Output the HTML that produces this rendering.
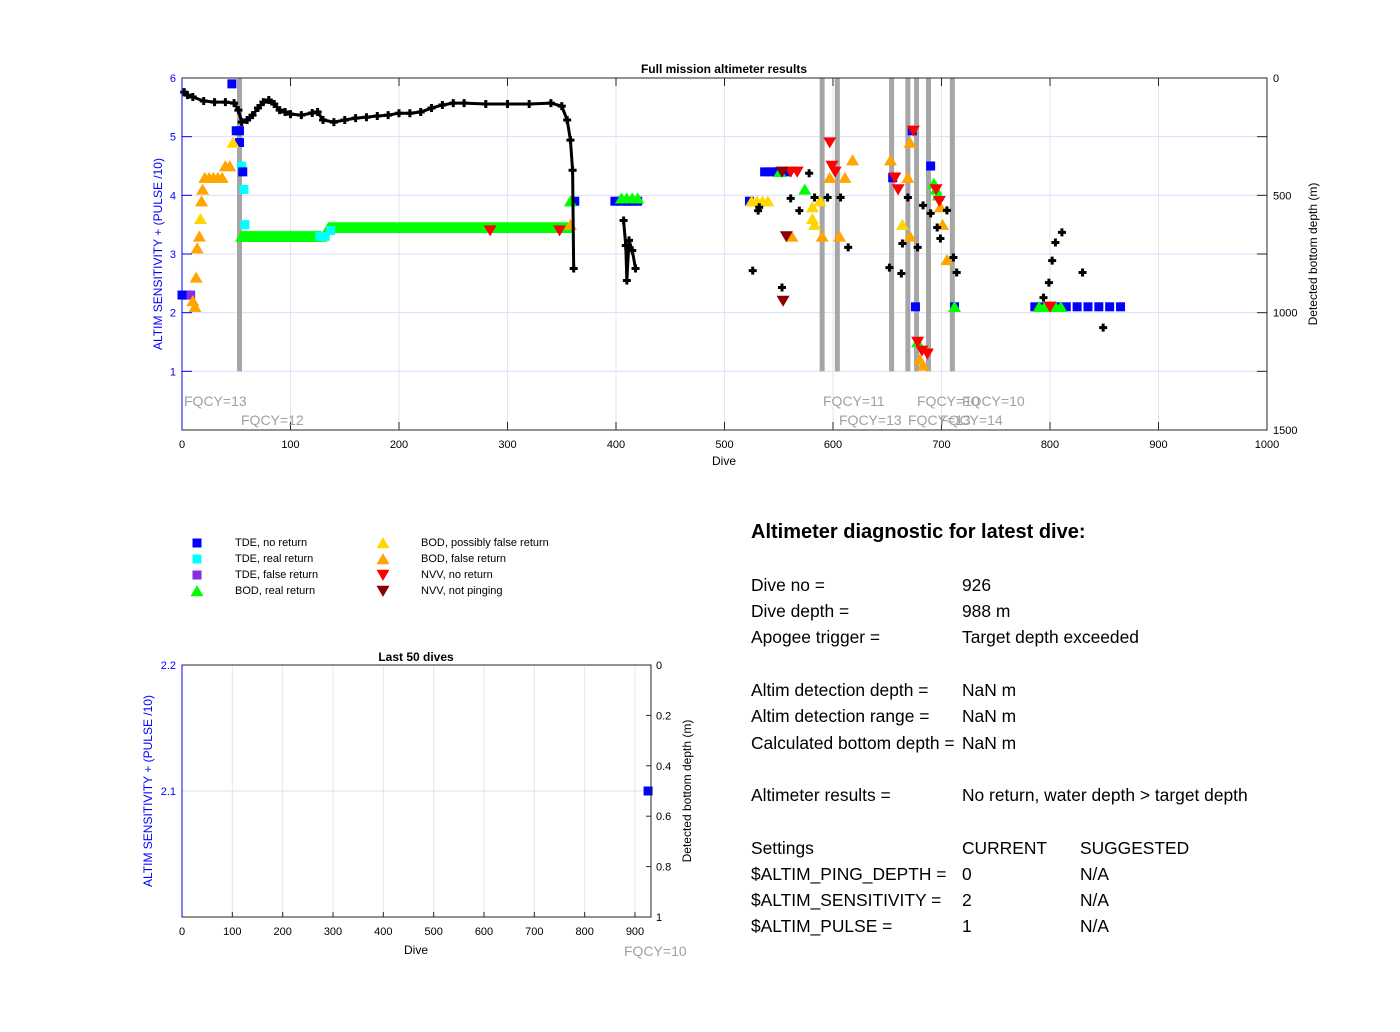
<!DOCTYPE html>
<html><head><meta charset="utf-8"><style>
body{margin:0;background:#fff;font-family:"Liberation Sans",Arial,sans-serif}
#wrap{position:relative;width:1400px;height:1032px}
.t{position:absolute;font-size:17.4px;color:#000;white-space:nowrap}
.lg{position:absolute;font-size:11px;white-space:nowrap}
</style></head><body>
<div id="wrap">
<svg id="svg" width="1400" height="1032" style="position:absolute;left:0;top:0"></svg>
<div class="t" style="left:751px;top:521px;font-size:20px;font-weight:bold">Altimeter diagnostic for latest dive:</div>
<div>
<div class="t" style="left:751px;top:575px">Dive no =</div><div class="t" style="left:962px;top:575px">926</div>
<div class="t" style="left:751px;top:601px">Dive depth =</div><div class="t" style="left:962px;top:601px">988 m</div>
<div class="t" style="left:751px;top:627px">Apogee trigger =</div><div class="t" style="left:962px;top:627px">Target depth exceeded</div>
<div class="t" style="left:751px;top:680px">Altim detection depth =</div><div class="t" style="left:962px;top:680px">NaN m</div>
<div class="t" style="left:751px;top:706px">Altim detection range =</div><div class="t" style="left:962px;top:706px">NaN m</div>
<div class="t" style="left:751px;top:733px">Calculated bottom depth =</div><div class="t" style="left:962px;top:733px">NaN m</div>
<div class="t" style="left:751px;top:785px">Altimeter results =</div><div class="t" style="left:962px;top:785px">No return, water depth &gt; target depth</div>
<div class="t" style="left:751px;top:838px">Settings</div><div class="t" style="left:962px;top:838px">CURRENT</div><div class="t" style="left:1080px;top:838px">SUGGESTED</div>
<div class="t" style="left:751px;top:864px">$ALTIM_PING_DEPTH =</div><div class="t" style="left:962px;top:864px">0</div><div class="t" style="left:1080px;top:864px">N/A</div>
<div class="t" style="left:751px;top:890px">$ALTIM_SENSITIVITY =</div><div class="t" style="left:962px;top:890px">2</div><div class="t" style="left:1080px;top:890px">N/A</div>
<div class="t" style="left:751px;top:916px">$ALTIM_PULSE =</div><div class="t" style="left:962px;top:916px">1</div><div class="t" style="left:1080px;top:916px">N/A</div>
</div>
<div>
<div class="lg" style="left:235px;top:537px">TDE, no return</div>
<div class="lg" style="left:235px;top:553px">TDE, real return</div>
<div class="lg" style="left:235px;top:569px">TDE, false return</div>
<div class="lg" style="left:235px;top:585px">BOD, real return</div>
<div class="lg" style="left:421px;top:537px">BOD, possibly false return</div>
<div class="lg" style="left:421px;top:553px">BOD, false return</div>
<div class="lg" style="left:421px;top:569px">NVV, no return</div>
<div class="lg" style="left:421px;top:585px">NVV, not pinging</div>
</div>
</div>
<script>
// ---- data (main plot) ----
const fqcyDives=[53,590,604,654,669,677,688,710];
const depthLine1Dives=[2,5,10,20,30,40,48,52,55,60,65,70,75,80,85,90,95,100,110,120,125,130,140,150,160,170,180,190,200,210,220,230,240,250,260,280,300,320,340,350,355,358,360,361];
const depthLine1=[60,73,81,98,103,103,107,137,188,179,158,128,103,94,111,137,145,154,158,149,145,179,188,179,171,167,162,158,150,150,145,128,115,107,107,111,111,111,107,120,179,265,393,812];
const depthLine2Dives=[407,409,410,412,415,418];
const depthLine2=[607,714,863,692,735,812];
const depthPtsDives=[526,531,532,561,569,578,583,595,607,614,553,652,663,664,669,678,683,690,696,699,705,711,714,794,799,802,805,811,830,849];
const depthPts=[821,565,551,513,565,406,509,509,509,722,893,808,833,705,509,722,543,577,637,684,564,765,829,936,872,778,701,658,829,1064];
const tdeNoDives=[46,50,53,53,56,0,362,399,405,410,415,420,537,543,548,553,558,676,712,786,795,805,815,825,835,845,855,865,673,690,655,523];
const tdeNo=[5.9,5.1,5.1,4.9,4.4,2.3,3.9,3.9,3.9,3.9,3.9,3.9,4.4,4.4,4.4,4.4,4.4,2.1,2.1,2.1,2.1,2.1,2.1,2.1,2.1,2.1,2.1,2.1,5.1,4.5,4.3,3.9];
const tdeRealDives=[55,57,58,127,132,137];
const tdeReal=[4.5,4.1,3.5,3.3,3.3,3.4];
const tdeFalseDives=[3,6,8];
const tdeFalse=[2.3,2.3,2.3];
const bodBandStart=[55,135];
const bodBandEnd=[128,355];
const bodBandValue=[3.3,3.45];
const bodRealDives=[358,405,410,415,420,574,551,693,695,697,678,790,795,800,805,810,712];
const bodReal=[3.9,3.95,3.95,3.95,3.95,4.1,4.4,4.2,4.1,4.0,1.5,2.1,2.1,2.1,2.1,2.1,2.1];
const bodPossDives=[17,47,525,530,535,540,581,581,583,588,664];
const bodPoss=[3.6,4.9,3.9,3.9,3.9,3.9,3.8,3.6,3.5,3.9,3.5];
const bodFalseDives=[10,12,13,14,16,18,19,21,25,29,33,37,40,44,358,653,618,597,611,590,606,562,671,669,671,705,701,699,680,683];
const bodFalse=[2.2,2.1,2.6,3.1,3.3,3.9,4.1,4.3,4.3,4.3,4.3,4.3,4.5,4.5,3.5,4.6,4.6,4.3,4.3,3.3,3.3,3.3,4.9,4.3,3.3,2.9,3.5,3.8,1.2,1.1];
const nvvNoDives=[597,599,602,567,561,657,660,674,678,682,687,698,695,284,348,800];
const nvvNo=[4.9,4.5,4.4,4.4,4.4,4.3,4.1,5.1,1.5,1.35,1.3,3.9,4.1,3.4,3.4,2.1];
const nvvNotDives=[554,557,553];
const nvvNot=[2.2,3.3,4.4];
const xTicks=[0,100,200,300,400,500,600,700,800,900,1000];
const yTicks=[1,2,3,4,5,6];
const rTicks=[0,500,1000,1500];
// ---- data (last 50 dives) ----
const lastDives=[926];
const lastValues=[2.1];
const xTicks2=[0,100,200,300,400,500,600,700,800,900];
const yTicks2=[2.1,2.2];
const rTicks2=[0,0.2,0.4,0.6,0.8,1];

const NS='http://www.w3.org/2000/svg';
const svg=document.getElementById('svg');
function el(tag,attrs,parent){const e=document.createElementNS(NS,tag);for(const k in attrs)e.setAttribute(k,attrs[k]);(parent||svg).appendChild(e);return e;}
function txt(s,x,y,attrs){const e=el('text',Object.assign({x:x,y:y,'font-family':'Liberation Sans, Arial, sans-serif','font-size':11},attrs));e.textContent=s;return e;}

const L=182,R=1267,T=78,B=430;
const X=d=>L+(R-L)*d/1000;
const Y=v=>B-(B-T)*v/6;
const YD=m=>T+(B-T)*m/1500;
const g=el('g',{});


xTicks.forEach(t=>{if(t>0&&t<1000){const l=el('line',{x1:X(t),x2:X(t),y1:T,y2:B,stroke:'#e6e6e6'},g);}
 const tt=txt(t,X(t),448,{'text-anchor':'middle'});
 el('line',{x1:X(t),x2:X(t),y1:B,y2:B-8,stroke:'#262626'},g);el('line',{x1:X(t),x2:X(t),y1:T,y2:T+8,stroke:'#262626'},g);});
yTicks.forEach(t=>{el('line',{x1:L,x2:R,y1:Y(t),y2:Y(t),stroke:'#dcdcff'},g);el('line',{x1:L,x2:L+10,y1:Y(t),y2:Y(t),stroke:'#0000ff'},g);el('line',{x1:R-10,x2:R,y1:Y(t),y2:Y(t),stroke:'#262626'},g);
 const tt=txt(t,176,Y(t)+4,{'text-anchor':'end',fill:'#0000ff'});});
rTicks.forEach(t=>{const tt=txt(t,1273,YD(t)+4,{});});
fqcyDives.forEach(d=>{const l=el('line',{x1:X(d),x2:X(d),y1:T,y2:Y(1),stroke:'#a6a6a6','stroke-width':5},g);});
function poly(ds,vs,name){const p=el('polyline',{points:ds.map((d,i)=>X(d)+','+YD(vs[i])).join(' '),fill:'none',stroke:'#000','stroke-width':3},g);
 ds.forEach((d,i)=>plus(X(d),YD(vs[i])));}
function plus(x,y){const p=el('path',{d:`M${x-4},${y}h8M${x},${y-4}v8`,stroke:'#000','stroke-width':3},g);}
function sq(x,y,c,name){const r=el('rect',{x:x-4.5,y:y-4.5,width:9,height:9,fill:c},g);}
function tri(x,y,c,up,name){const s=6.5;const d=up?`M${x-s},${y+s*0.8}L${x+s},${y+s*0.8}L${x},${y-s*0.9}Z`:`M${x-s},${y-s*0.8}L${x+s},${y-s*0.8}L${x},${y+s*0.9}Z`;const p=el('path',{d:d,fill:c},g);}
bodBandStart.forEach((s,i)=>{for(let d=s;d<=bodBandEnd[i];d++)tri(X(d),Y(bodBandValue[i]),'#00ff00',true,'bod-real-return');});
tdeRealDives.forEach((d,i)=>sq(X(d),Y(tdeReal[i]),'#00ffff','tde-real-return'));
tdeFalseDives.forEach((d,i)=>sq(X(d),Y(tdeFalse[i]),'#8a2be2','tde-false-return'));
tdeNoDives.forEach((d,i)=>sq(X(d),Y(tdeNo[i]),'#0000ff','tde-no-return'));
bodFalseDives.forEach((d,i)=>tri(X(d),Y(bodFalse[i]),'#ffa500',true,'bod-false-return'));
bodPossDives.forEach((d,i)=>tri(X(d),Y(bodPoss[i]),'#ffd700',true,'bod-possibly-false'));
bodRealDives.forEach((d,i)=>tri(X(d),Y(bodReal[i]),'#00ff00',true,'bod-real-return'));
nvvNoDives.forEach((d,i)=>tri(X(d),Y(nvvNo[i]),'#ff0000',false,'nvv-no-return'));
nvvNotDives.forEach((d,i)=>tri(X(d),Y(nvvNot[i]),'#8b0000',false,'nvv-not-pinging'));
poly(depthLine1Dives,depthLine1,'depth-line-1');
poly(depthLine2Dives,depthLine2,'depth-line-2');
depthPtsDives.forEach((d,i)=>plus(X(d),YD(depthPts[i])));
el('rect',{x:L,y:T,width:R-L,height:B-T,fill:'none',stroke:'#262626'},g);
el('line',{x1:L,x2:L,y1:T,y2:B,stroke:'#0000ff'},g);
[['FQCY=13',184,406],['FQCY=12',241,425],['FQCY=11',823,406],['FQCY=10',917,406],['FQCY=10',962,406],['FQCY=13',839,425],['FQCY=13',908,425],['FQCY=14',940,425]].forEach(a=>{const t=txt(a[0],a[1],a[2],{fill:'#a0a0a0','font-size':14});});
let t1=txt('Full mission altimeter results',724,73,{'text-anchor':'middle','font-weight':'bold','font-size':12});
t1=txt('Dive',724,465,{'text-anchor':'middle','font-size':12});
t1=txt('ALTIM SENSITIVITY + (PULSE /10)',162,254,{'text-anchor':'middle','font-size':12,fill:'#0000ff',transform:'rotate(-90 162 254)'});
t1=txt('Detected bottom depth (m)',1317,254,{'text-anchor':'middle','font-size':12,transform:'rotate(-90 1317 254)'});

const lg=[[197,543,'#0000ff','s'],[197,559,'#00ffff','s'],[197,575,'#8a2be2','s'],[197,591,'#00ff00','u'],[383,543,'#ffd700','u'],[383,559,'#ffa500','u'],[383,575,'#ff0000','d'],[383,591,'#8b0000','d']];
lg.forEach(m=>{if(m[3]=='s')sq(m[0],m[1],m[2],'legend-marker');else tri(m[0],m[1],m[2],m[3]=='u','legend-marker');});

const L2=182,R2=651,T2=665,B2=917;
const X2=d=>L2+(635-L2)*d/900;
const Y2=v=>B2-(B2-T2)*(v-2.0)/0.2;
const YR2=v=>T2+(B2-T2)*v;
xTicks2.forEach(t=>{if(t>0)el('line',{x1:X2(t),x2:X2(t),y1:T2,y2:B2,stroke:'#e6e6e6'},g);el('line',{x1:X2(t),x2:X2(t),y1:B2,y2:B2-5,stroke:'#262626'},g);
 const tt=txt(t,X2(t),935,{'text-anchor':'middle'});});
yTicks2.forEach(t=>{el('line',{x1:L2,x2:R2,y1:Y2(t),y2:Y2(t),stroke:'#dcdcff'},g);
 const tt=txt(t.toFixed(1),176,Y2(t)+4,{'text-anchor':'end',fill:'#0000ff'});});
rTicks2.forEach(t=>{el('line',{x1:R2-5,x2:R2,y1:YR2(t),y2:YR2(t),stroke:'#262626'},g);const tt=txt(t,656,YR2(t)+4,{});});
lastDives.forEach((d,i)=>sq(X2(d),Y2(lastValues[i]),'#0000ff','last-tde-no-return'));
el('rect',{x:L2,y:T2,width:R2-L2,height:B2-T2,fill:'none',stroke:'#262626'},g);
el('line',{x1:L2,x2:L2,y1:T2,y2:B2,stroke:'#0000ff'},g);
t1=txt('Last 50 dives',416,661,{'text-anchor':'middle','font-weight':'bold','font-size':12});
t1=txt('Dive',416,954,{'text-anchor':'middle','font-size':12});
t1=txt('FQCY=10',624,956,{fill:'#a0a0a0','font-size':14});
t1=txt('ALTIM SENSITIVITY + (PULSE /10)',152,791,{'text-anchor':'middle','font-size':12,fill:'#0000ff',transform:'rotate(-90 152 791)'});
t1=txt('Detected bottom depth (m)',691,791,{'text-anchor':'middle','font-size':12,transform:'rotate(-90 691 791)'});
</script>
</body></html>
